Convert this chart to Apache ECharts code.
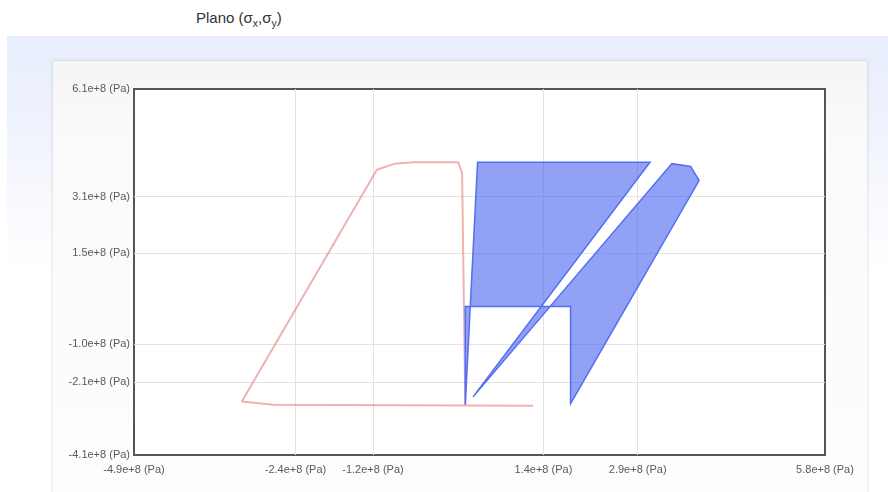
<!DOCTYPE html>
<html>
<head>
<meta charset="utf-8">
<title>Plano (σx,σy)</title>
<script src="https://cdn.jsdelivr.net/npm/echarts@6/dist/echarts.min.js"></script>
<style>
  html, body { margin: 0; padding: 0; width: 888px; height: 492px; overflow: hidden; background: #fff;
    font-family: "Liberation Sans", Arial, sans-serif; }
  #band { position: absolute; left: 7px; top: 36px; width: 881px; height: 456px;
    background: linear-gradient(to bottom, #e7edfc 0px, #eef2fd 80px, #f8f9fe 160px, #ffffff 240px); }
  #card { position: absolute; left: 53px; top: 61px; width: 814px; height: 440px;
    background: linear-gradient(to bottom, #f4f4f4 0px, #fafafa 60px, #fdfdfd 100%);
    box-shadow: 0 0 3px rgba(0, 0, 0, 0.18); }
  #title { position: absolute; left: 196px; top: 9px; font-size: 15px; color: #333; white-space: nowrap; }
  #title sub { font-size: 10.5px; }
  #chart { position: absolute; left: 0; top: 0; width: 888px; height: 492px; }
</style>
</head>
<body>
<div id="band"></div>
<div id="card"></div>
<div id="title">Plano (σ<sub>x</sub>,σ<sub>y</sub>)</div>
<div id="chart"></div>
<script>
// Axis ticks (Pa)
const xTicks = [-4.9e8, -2.4e8, -1.2e8, 1.44e8, 2.9e8, 5.8e8];
const yTicks = [-4.1e8, -2.06e8, -1.0e8, 1.52e8, 3.1e8, 6.1e8];

// Outline of the first region (σx, σy) in Pa
const redX = [1.28e8, -2.74e8, -3.23e8, -1.14e8, -0.86e8, -0.58e8, 0.12e8, 0.18e8, 0.23e8];
const redY = [-2.73e8, -2.70e8, -2.61e8, 3.85e8, 4.02e8, 4.06e8, 4.06e8, 3.76e8, -2.70e8];

// Filled admissible region (σx, σy) in Pa
const blueX = [0.42e8, 3.09e8, 0.35e8, 3.43e8, 3.72e8, 3.85e8, 1.86e8, 1.86e8, 0.23e8, 0.23e8];
const blueY = [4.06e8, 4.06e8, -2.48e8, 4.02e8, 3.94e8, 3.55e8, -2.67e8, 0.04e8, 0.04e8, -2.70e8];

const fmt = v => v.toExponential(1) + ' (Pa)';
const labelFont = { color: '#5a5a5a', fontSize: 11, fontFamily: '"Liberation Sans", Arial, sans-serif' };
const gridLineStyle = { color: '#e2e2e2', width: 1, type: 'solid' };

// interior grid lines at the tick values (the ends coincide with the frame)
const gridLines = xTicks.slice(1, -1).map(v => ({ xAxis: v }))
  .concat(yTicks.slice(1, -1).map(v => ({ yAxis: v })));

const chart = echarts.init(document.getElementById('chart'), null, { renderer: 'canvas' });
chart.setOption({
  animation: false,
  backgroundColor: 'transparent',
  grid: {
    left: 134, right: 63, top: 89, bottom: 37,
    show: true, backgroundColor: '#ffffff', borderColor: '#555555', borderWidth: 2
  },
  xAxis: {
    type: 'value',
    min: xTicks[0], max: xTicks[xTicks.length - 1],
    axisLine: { show: false },
    axisTick: { show: false, customValues: xTicks },
    axisLabel: Object.assign({ customValues: xTicks, formatter: fmt, margin: 9 }, labelFont),
    splitLine: { show: false }
  },
  yAxis: {
    type: 'value',
    min: yTicks[0], max: yTicks[yTicks.length - 1],
    axisLine: { show: false },
    axisTick: { show: false, customValues: yTicks },
    axisLabel: Object.assign({ customValues: yTicks, formatter: fmt, margin: 4 }, labelFont),
    splitLine: { show: false }
  },
  series: [
    {
      type: 'line',
      data: redX.map((x, i) => [x, redY[i]]),
      symbol: 'none',
      silent: true,
      z: 2,
      lineStyle: { color: 'rgba(230, 120, 120, 0.58)', width: 2 },
      markLine: {
        silent: true,
        symbol: 'none',
        label: { show: false },
        lineStyle: gridLineStyle,
        emphasis: { disabled: true },
        z: 1,
        data: gridLines
      }
    },
    {
      type: 'custom',
      coordinateSystem: 'cartesian2d',
      silent: true,
      z: 3,
      data: [[xTicks[0], yTicks[0]]],
      renderItem: function (params, api) {
        return {
          type: 'polygon',
          shape: { points: blueX.map((x, i) => api.coord([x, blueY[i]])) },
          style: { fill: 'rgba(65, 95, 240, 0.58)', stroke: '#536ef0', lineWidth: 1.5 }
        };
      }
    }
  ]
});
</script>
</body>
</html>
